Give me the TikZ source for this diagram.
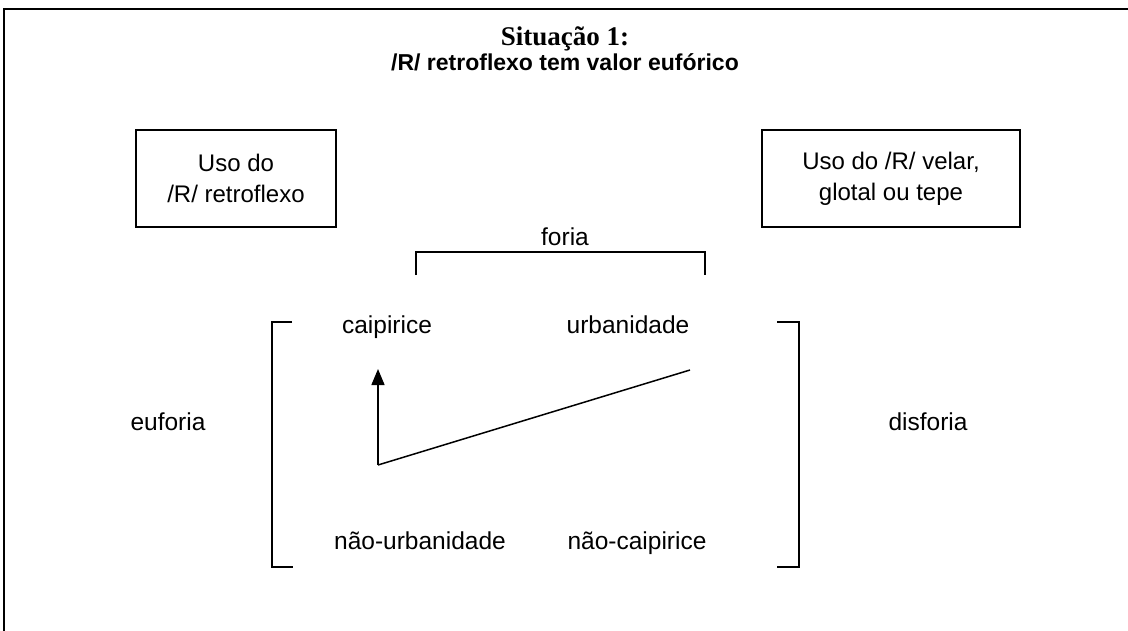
\documentclass[tikz,border=0pt]{standalone}
\usepackage{fontspec}
\setmainfont{Liberation Sans}
\newfontfamily\titlefont{Liberation Serif}
\usetikzlibrary{arrows.meta}
\begin{document}
\begin{tikzpicture}[x=1pt,y=-1pt,
  lbl/.style={inner sep=0pt,anchor=base,font=\fontsize{24.5}{30}\selectfont,align=center},
  boxnode/.style={draw,line width=2pt,minimum width=200pt,minimum height=97pt,inner sep=0pt,align=center,font=\fontsize{24}{31}\selectfont},
  thin/.style={line width=1.5pt}]
\useasboundingbox (0,0) rectangle (1128,630);
\clip (0,0) rectangle (1128,630);
\fill[white] (0,0) rectangle (1128,630);
\draw[line width=2pt] (4,640) -- (4,9) -- (1140,9);
\node[inner sep=0pt,anchor=base,font=\titlefont\bfseries\fontsize{27}{30}\selectfont] (title) at (565,45) {Situação 1:};
\node[inner sep=0pt,anchor=base,font=\bfseries\fontsize{23}{26}\selectfont] (sub) at (565,70) {/R/ retroflexo tem valor eufórico};
\node[boxnode] (bl) at (236,178.5) {Uso do\\/R/ retroflexo};
\node[boxnode,minimum width=258pt] (br) at (891,178.5) {Uso do /R/ velar,\\glotal ou tepe};
\node[lbl] (foria) at (565,245) {foria};
\coordinate (fl) at (416,275);
\coordinate (fr) at (705,275);
\draw[thin] (fl) -- (416,252) -- (705,252) -- (fr);
\node[lbl] (caip) at (387,333) {caipirice};
\node[lbl] (urb) at (628,333) {urbanidade};
\node[lbl] (nurb) at (420,549) {não-urbanidade};
\node[lbl] (ncaip) at (637,549) {não-caipirice};
\node[lbl] (euf) at (168,430) {euforia};
\node[lbl] (disf) at (928,430) {disforia};
\coordinate (lbt) at (292,322);
\coordinate (lbb) at (293,567);
\draw[thin] (lbt) -- (272,322) -- (272,567) -- (lbb);
\coordinate (rbt) at (777,322);
\coordinate (rbb) at (777,567);
\draw[thin] (rbt) -- (799,322) -- (799,567) -- (rbb);
\coordinate (p) at (378,465);
\coordinate (a) at (378,369);
\coordinate (b) at (690,370);
\draw[thin,-{Triangle[width=13pt,length=16pt]}] (p) -- (a);
\draw[thin] (p) -- (b);
\end{tikzpicture}
\end{document}
